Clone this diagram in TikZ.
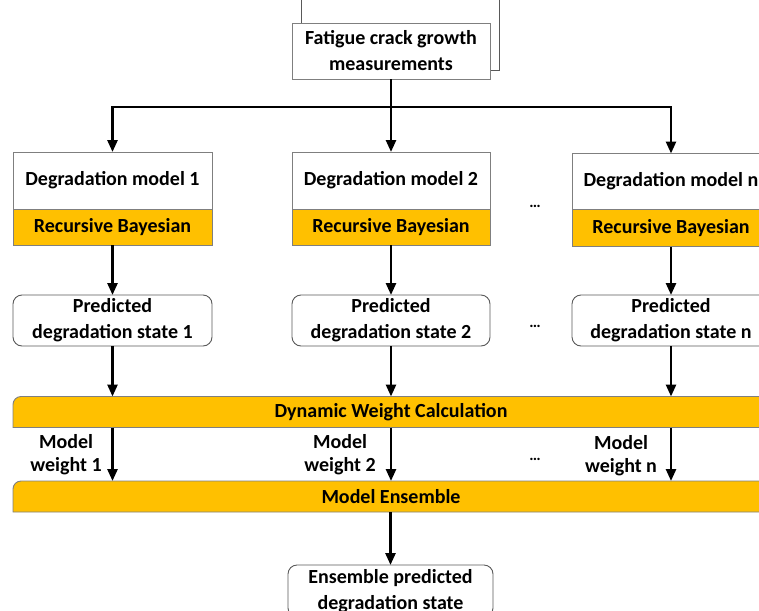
\documentclass[tikz,border=0pt]{standalone}
\usepackage{fontspec}
\setmainfont{Carlito}
\usetikzlibrary{arrows.meta,backgrounds}
\definecolor{gold}{HTML}{FFC000}
\definecolor{edge}{HTML}{7F7F7F}
\definecolor{dedge}{HTML}{595959}
\tikzset{
  txt/.style={font=\bfseries\fontsize{20}{26}\selectfont, align=center, inner sep=0pt, outer sep=0pt},
  wbox/.style={txt, draw=edge, line width=0.9pt, fill=white},
  obox/.style={txt, draw=edge, line width=0.9pt, fill=gold},
  rbox/.style={txt, draw=dedge, line width=0.9pt, fill=white, rounded corners=9pt},
  bar/.style={txt, minimum width=756, minimum height=31},
  lab/.style={font=\bfseries\fontsize{20}{23}\selectfont, align=center, inner sep=0pt},
  dots/.style={font=\bfseries\fontsize{16}{18}\selectfont, inner sep=0pt},
  conn/.style={line width=2.6pt},
  arr/.style={line width=2.6pt, -{Triangle[length=12pt,width=10pt]}},
}
\begin{document}
\begin{tikzpicture}[x=1pt,y=-1pt]
\useasboundingbox (0,0) rectangle (759,610);
\clip (0,0) rectangle (759,610);
% shadow box behind the top box
\draw[draw=dedge, line width=0.9pt] (301,-10) rectangle (499,70);
\node[wbox, minimum width=198, minimum height=56] (fcg) at (391,51) {Fatigue crack growth\\measurements};

% degradation models
\node[wbox, minimum width=199, minimum height=57] (m1) at (112.5,180.5) {Degradation model 1};
\node[obox, minimum width=199, minimum height=36, anchor=north] (rb1) at (m1.south) {Recursive Bayesian};
\node[wbox, minimum width=198, minimum height=57] (m2) at (391,180.5) {Degradation model 2};
\node[obox, minimum width=198, minimum height=36, anchor=north] (rb2) at (m2.south) {Recursive Bayesian};
\node[wbox, minimum width=198, minimum height=56] (mn) at (671,181.5) {Degradation model n};
\node[obox, minimum width=198, minimum height=37, anchor=north] (rbn) at (mn.south) {Recursive Bayesian};

% predicted states
\node[rbox, minimum width=199, minimum height=51] (p1) at (112.5,320.5) {Predicted\\degradation state 1};
\node[rbox, minimum width=198, minimum height=51] (p2) at (391,320.5) {Predicted\\degradation state 2};
\node[rbox, minimum width=198, minimum height=51] (pn) at (671,320.5) {Predicted\\degradation state n};

% bars
\node[bar] (dw) at (391,412) {Dynamic Weight Calculation};
\node[bar] (me) at (391,496.5) {Model Ensemble};
\begin{scope}[on background layer]
\path[fill=gold, draw=edge, line width=0.9pt] (dw.south west) [rounded corners=8pt] -- (dw.north west) [sharp corners] -- (dw.north east) -- (dw.south east) -- cycle;
\path[fill=gold, draw=edge, line width=0.9pt] (me.south west) [rounded corners=8pt] -- (me.north west) [sharp corners] -- (me.north east) -- (me.south east) -- cycle;
\end{scope}

% final box
\node[rbox, minimum width=205, minimum height=52] (ens) at (390.5,591) {Ensemble predicted\\degradation state};

% dots
\node[dots] (d1) at (535,206) {\ldots};
\node[dots] (d2) at (535,326) {\ldots};
\node[dots] (d3) at (535,459) {\ldots};

% weight labels
\node[lab] (w1) at (66,455) {Model\\weight 1};
\node[lab] (w2) at (340,455) {Model\\weight 2};
\node[lab] (wn) at (621,456) {Model\\weight n};

% connectors
\coordinate (hub) at (fcg.south |- 0,107);
\draw[conn] (fcg.south) -- (hub);
\draw[conn] ([xshift=-1.3pt]m1.north |- hub) -- ([xshift=1.3pt]mn.north |- hub);
\draw[arr] (m1.north |- hub) -- (m1.north);
\draw[arr] (hub) -- (m2.north);
\draw[arr] (mn.north |- hub) -- (mn.north);

\draw[arr] (rb1.south) -- (p1.north);
\draw[arr] (rb2.south) -- (p2.north);
\draw[arr] (rbn.south) -- (pn.north);

\draw[arr] (p1.south) -- (p1.south |- dw.north);
\draw[arr] (p2.south) -- (p2.south |- dw.north);
\draw[arr] (pn.south) -- (pn.south |- dw.north);

\draw[arr] (dw.south -| p1.south) -- (me.north -| p1.south);
\draw[arr] (dw.south -| p2.south) -- (me.north -| p2.south);
\draw[arr] (dw.south -| pn.south) -- (me.north -| pn.south);

\draw[arr] (me.south -| ens.north) -- (ens.north);
\end{tikzpicture}
\end{document}
